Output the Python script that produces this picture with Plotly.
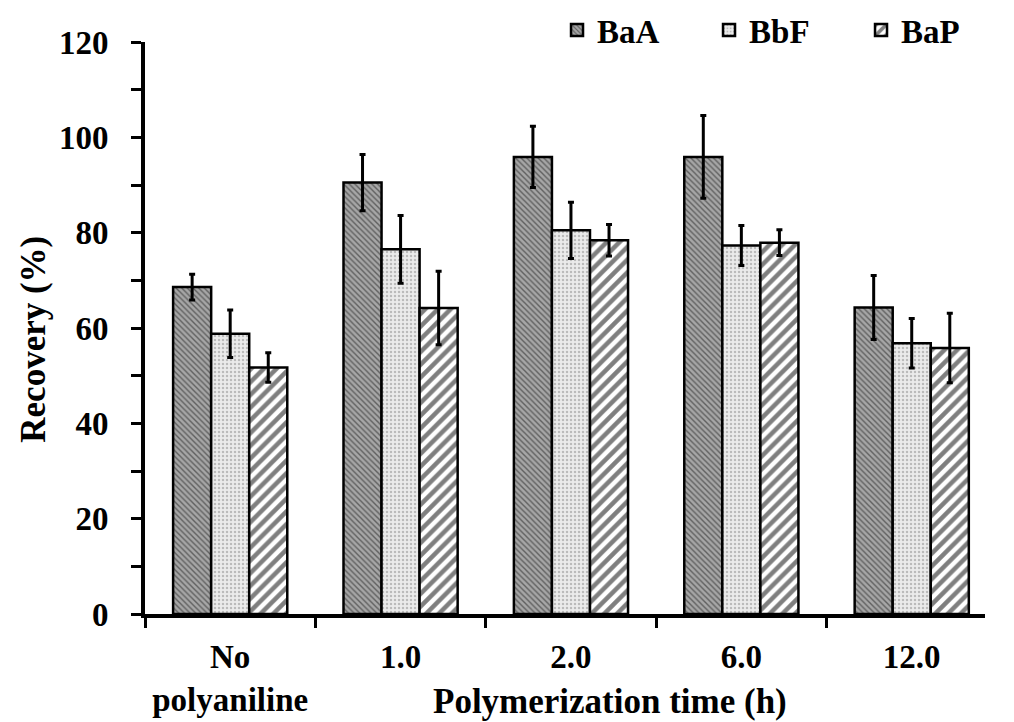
import plotly.graph_objects as go

categories = ["No<br>polyaniline", "1.0", "2.0", "6.0", "12.0"]
series_names = ["BaA", "BbF", "BaP"]
baa = [68.6, 90.5, 95.9, 95.9, 64.3]
baa_err = [2.7, 5.9, 6.4, 8.7, 6.7]
bbf = [58.8, 76.5, 80.5, 77.3, 56.8]
bbf_err = [5.0, 7.1, 5.9, 4.2, 5.2]
bap = [51.7, 64.2, 78.4, 77.9, 55.8]
bap_err = [3.1, 7.7, 3.3, 2.7, 7.3]
y_ticks = [0, 20, 40, 60, 80, 100, 120]

FONT = "Times New Roman, Liberation Serif, serif"

patterns = [
    dict(shape="\\", bgcolor="#a6a6a6", fgcolor="#1a1a1a", size=4, solidity=0.35),
    dict(shape=".", bgcolor="#ebebeb", fgcolor="#8a8a8a", size=4, solidity=0.3),
    dict(shape="/", bgcolor="#ffffff", fgcolor="#000000", size=9, solidity=0.5),
]

fig = go.Figure()
for name, vals, errs, pat in zip(series_names, [baa, bbf, bap], [baa_err, bbf_err, bap_err], patterns):
    fig.add_trace(go.Bar(
        name=name, x=categories, y=vals,
        marker=dict(color=pat["bgcolor"], pattern=pat, line=dict(color="black", width=2.5)),
        error_y=dict(type="data", array=errs, visible=True, color="black", thickness=3, width=3),
    ))

fig.update_layout(
    width=1014, height=722,
    margin=dict(l=145, r=1, t=42, b=108),
    plot_bgcolor="white", paper_bgcolor="white",
    barmode="group", bargap=0.33, bargroupgap=0,
    font=dict(family=FONT, size=33, color="black", weight="bold"),
    legend=dict(
        orientation="h", x=0.4905, xanchor="left", y=1.021, yanchor="middle",
        font=dict(family=FONT, size=33, color="black", weight="bold"),
        entrywidth=107, entrywidthmode="pixels", bgcolor="rgba(0,0,0,0)",
    ),
    showlegend=True,
)

fig.update_xaxes(
    range=[-0.5, 4.43], showline=True, linecolor="black", linewidth=4,
    ticks="outside", tickson="boundaries", ticklen=10, tickwidth=3, tickcolor="black",
    showgrid=False, zeroline=False,
    tickfont=dict(family=FONT, size=33, color="black", weight="bold"),
    ticklabelstandoff=10,
)
fig.update_yaxes(
    range=[0, 120], tickvals=y_ticks, showline=True, linecolor="black", linewidth=4,
    ticks="outside", ticklen=10, tickwidth=3, tickcolor="black",
    minor=dict(dtick=10, tick0=0, ticks="outside", ticklen=10, tickwidth=3, tickcolor="black", showgrid=False),
    showgrid=False, zeroline=False,
    tickfont=dict(family=FONT, size=33, color="black", weight="bold"),
    ticklabelstandoff=16,
)

fig.add_annotation(
    text="Recovery (%)", textangle=-90, xref="paper", yref="paper",
    x=(30 - 145) / 868, y=(614 - 339) / 572, xanchor="center", yanchor="middle",
    showarrow=False, font=dict(family=FONT, size=35, color="black", weight="bold"),
)
fig.add_annotation(
    text="Polymerization time (h)", xref="paper", yref="paper",
    x=(626 - 145) / 868, y=(614 - 702) / 572, xanchor="center", yanchor="middle",
    showarrow=False, font=dict(family=FONT, size=35, color="black", weight="bold"),
)

fig.write_html("out.html")
